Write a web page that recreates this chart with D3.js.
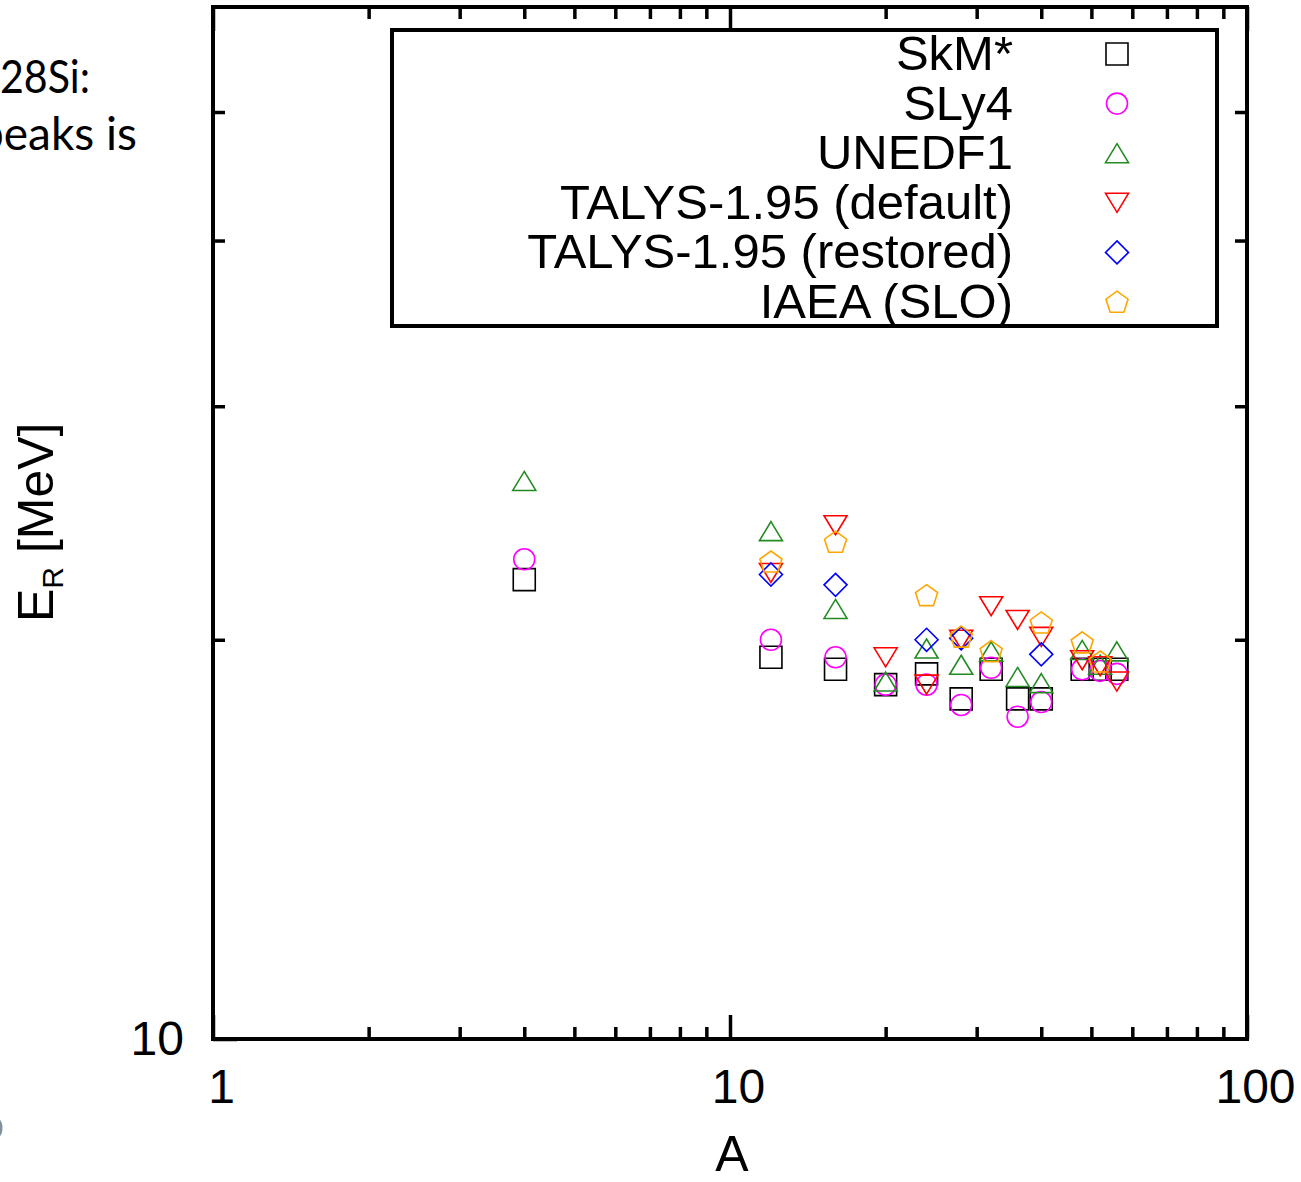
<!DOCTYPE html>
<html>
<head>
<meta charset="utf-8">
<title>E_R vs A</title>
<script src="https://cdn.jsdelivr.net/npm/d3@7"></script>
<style>
  html, body { margin: 0; padding: 0; background: #fff; }
  svg { display: block; }
</style>
</head>
<body>
<svg id="chart" width="1301" height="1182"></svg>
<script>
// Mass numbers of the nuclei
const massNumbers = [4, 12, 16, 20, 24, 28, 32, 36, 40, 48, 52, 56];

// Resonance energy E_R [MeV] per model (null = no value)
const skmStar       = [22.2, 19.4, 19.0, 18.5, 18.85, 18.05, 19.0, 18.05, 18.05, 19.0, 19.0, 19.0];
const sly4          = [23.0, 20.0, 19.4, 18.5, 18.5, 17.86, 19.05, 17.5, 17.95, 19.0, 18.95, 18.85];
const unedf1        = [26.35, 24.15, 21.1, 18.6, 19.7, 19.15, 19.6, 18.75, 18.55, 19.65, 19.15, 19.6];
const talysDefault  = [null, 22.46, 24.4, 19.4, 18.5, 20.0, 21.2, 20.7, 20.1, 19.3, 19.1, 18.6];
const talysRestored = [null, 22.4, 22.0, null, 20.0, 20.05, null, null, 19.5, null, null, null];
const iaeaSlo       = [null, 22.9, 23.7, null, 21.6, 20.1, 19.6, null, 20.6, 19.9, 19.25, null];

const seriesNames  = ["SkM*", "SLy4", "UNEDF1", "TALYS-1.95 (default)", "TALYS-1.95 (restored)", "IAEA (SLO)"];
const seriesValues = [skmStar, sly4, unedf1, talysDefault, talysRestored, iaeaSlo];
const seriesShapes = ["square", "circle", "triangleUp", "triangleDown", "diamond", "pentagon"];
const seriesColors = ["#000000", "#ff00ff", "#228b22", "#ff0000", "#0000ff", "#ffa500"];

// Axis ticks
const xMajorTicks = [1, 10, 100];
const xMinorTicks = [2, 3, 4, 5, 6, 7, 8, 9, 20, 30, 40, 50, 60, 70, 80, 90];
const yMajorTicks = [10];
const yMinorTicks = [20, 30, 40, 50];

const svg = d3.select("#chart");
const W = 1301, H = 1182;
svg.append("rect").attr("width", W).attr("height", H).attr("fill", "#fff");

const plot = { left: 213, right: 1247, top: 7, bottom: 1039 };
const x = d3.scaleLog().domain([1, 100]).range([plot.left, plot.right]);
const y = d3.scaleLog().domain([10, 60]).range([plot.bottom, plot.top]);

const axisFont = "'Liberation Sans', Arial, Helvetica, sans-serif";
const majorLen = 24, minorLen = 12;

// --- surrounding slide text fragments ---
const slideFont = "Lato, 'Open Sans', sans-serif";
svg.append("text").attr("x", 0).attr("y", 93)
  .attr("font-family", slideFont).attr("font-size", 46).attr("fill", "#000")
  .attr("textLength", 90).attr("lengthAdjust", "spacingAndGlyphs")
  .text("28Si:");
svg.append("text").attr("x", 137).attr("y", 150).attr("text-anchor", "end")
  .attr("font-family", slideFont).attr("font-size", 46).attr("fill", "#000")
  .text("peaks is");
svg.append("text").attr("x", 3).attr("y", 1138).attr("text-anchor", "end")
  .attr("font-family", slideFont).attr("font-size", 26).attr("fill", "#8a8a8a")
  .text("0");

// --- axes (ticks point inward, mirrored on top/right) ---
function styleAxis(g) {
  g.select(".domain").remove();
  g.selectAll(".tick line").attr("stroke", "#000").attr("stroke-width", 3.5);
  g.selectAll("text").attr("font-family", axisFont).attr("font-size", 48).attr("fill", "#000");
}
const noLabel = () => "";

// bottom
svg.append("g").attr("transform", `translate(0,${plot.bottom})`)
  .call(d3.axisBottom(x).tickValues(xMinorTicks).tickSizeInner(-minorLen).tickSizeOuter(0).tickFormat(noLabel))
  .call(styleAxis);
svg.append("g").attr("transform", `translate(0,${plot.bottom})`)
  .call(d3.axisBottom(x).tickValues(xMajorTicks).tickSizeInner(-majorLen).tickSizeOuter(0)
        .tickPadding(30).tickFormat(d3.format("d")))
  .call(styleAxis)
  .call(g => g.selectAll("text").attr("dx", 8));
// top
svg.append("g").attr("transform", `translate(0,${plot.top})`)
  .call(d3.axisTop(x).tickValues(xMinorTicks).tickSizeInner(-minorLen).tickSizeOuter(0).tickFormat(noLabel))
  .call(styleAxis);
svg.append("g").attr("transform", `translate(0,${plot.top})`)
  .call(d3.axisTop(x).tickValues(xMajorTicks).tickSizeInner(-majorLen).tickSizeOuter(0).tickFormat(noLabel))
  .call(styleAxis);
// left
svg.append("g").attr("transform", `translate(${plot.left},0)`)
  .call(d3.axisLeft(y).tickValues(yMinorTicks).tickSizeInner(-minorLen).tickSizeOuter(0).tickFormat(noLabel))
  .call(styleAxis);
svg.append("g").attr("transform", `translate(${plot.left},0)`)
  .call(d3.axisLeft(y).tickValues(yMajorTicks).tickSizeInner(-majorLen).tickSizeOuter(0)
        .tickPadding(29).tickFormat(d3.format("d")))
  .call(styleAxis);
// right
svg.append("g").attr("transform", `translate(${plot.right},0)`)
  .call(d3.axisRight(y).tickValues(yMinorTicks).tickSizeInner(-minorLen).tickSizeOuter(0).tickFormat(noLabel))
  .call(styleAxis);

// frame
svg.append("rect")
  .attr("x", plot.left).attr("y", plot.top)
  .attr("width", plot.right - plot.left).attr("height", plot.bottom - plot.top)
  .attr("fill", "none").attr("stroke", "#000").attr("stroke-width", 4);

// axis titles
svg.append("text").attr("x", 732).attr("y", 1171).attr("text-anchor", "middle")
  .attr("font-family", axisFont).attr("font-size", 50).attr("fill", "#000").text("A");

const yTitle = svg.append("text")
  .attr("transform", "translate(53,622) rotate(-90)")
  .attr("font-family", axisFont).attr("font-size", 50).attr("fill", "#000");
yTitle.append("tspan").text("E");
yTitle.append("tspan").attr("font-size", 30).attr("dy", 10).text("R");
yTitle.append("tspan").attr("dy", -10).text(" [MeV]");

// --- marker shapes ---
function markerPath(shape) {
  const p = d3.path();
  switch (shape) {
    case "square": {
      const h = 11;
      p.rect(-h, -h, 2 * h, 2 * h);
      break;
    }
    case "circle":
      p.moveTo(10.5, 0); p.arc(0, 0, 10.5, 0, 2 * Math.PI); p.closePath();
      break;
    case "triangleUp":
      p.moveTo(0, -9.5); p.lineTo(11.5, 9.5); p.lineTo(-11.5, 9.5); p.closePath();
      break;
    case "triangleDown":
      p.moveTo(0, 9.5); p.lineTo(11.5, -9.5); p.lineTo(-11.5, -9.5); p.closePath();
      break;
    case "diamond":
      p.moveTo(0, -11.5); p.lineTo(11.5, 0); p.lineTo(0, 11.5); p.lineTo(-11.5, 0); p.closePath();
      break;
    case "pentagon": {
      const R = 11.6;
      for (let k = 0; k < 5; k++) {
        const a = -Math.PI / 2 + k * 2 * Math.PI / 5;
        const px = R * Math.cos(a), py = R * Math.sin(a) + 0.8;
        if (k === 0) p.moveTo(px, py); else p.lineTo(px, py);
      }
      p.closePath();
      break;
    }
  }
  return p.toString();
}

// --- data points ---
seriesValues.forEach((vals, si) => {
  const pts = massNumbers.map((a, i) => ({ a, v: vals[i] })).filter(d => d.v != null);
  svg.append("g").selectAll("path").data(pts).join("path")
    .attr("transform", d => `translate(${x(d.a)},${y(d.v)})`)
    .attr("d", markerPath(seriesShapes[si]))
    .attr("fill", "none")
    .attr("stroke", seriesColors[si])
    .attr("stroke-width", 1.6);
});

// --- legend ---
const legend = svg.append("g");
legend.append("rect")
  .attr("x", 392).attr("y", 30).attr("width", 1217 - 392).attr("height", 326 - 30)
  .attr("fill", "#fff").attr("stroke", "#000").attr("stroke-width", 4);
seriesNames.forEach((name, i) => {
  const base = 70 + i * 49.6;
  legend.append("text")
    .attr("x", 1013).attr("y", base).attr("text-anchor", "end")
    .attr("font-family", axisFont).attr("font-size", 49).attr("fill", "#000")
    .text(name);
  legend.append("path")
    .attr("transform", `translate(1117,${base - 16})`)
    .attr("d", markerPath(seriesShapes[i]))
    .attr("fill", "none").attr("stroke", seriesColors[i]).attr("stroke-width", 1.6);
});
</script>
</body>
</html>
